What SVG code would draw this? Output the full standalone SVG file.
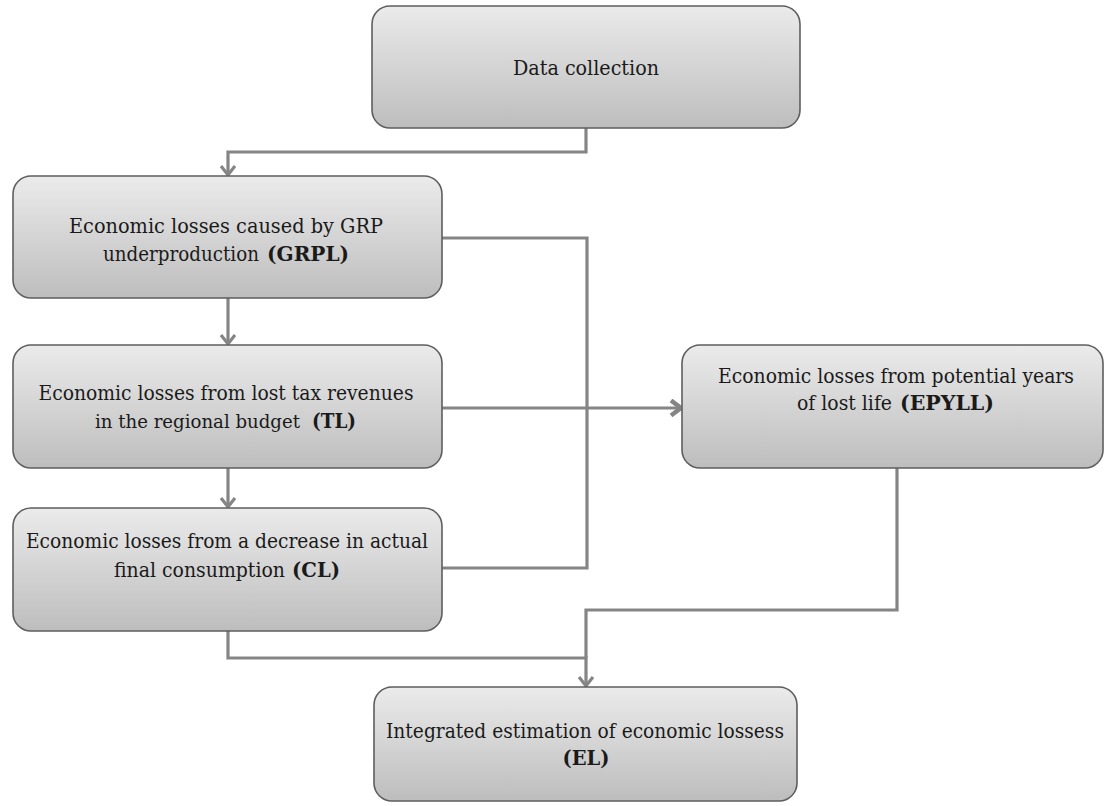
<svg xmlns="http://www.w3.org/2000/svg" width="1105" height="806" viewBox="0 0 1105 806">
<defs>
<linearGradient id="g" x1="0" y1="0" x2="0" y2="1">
<stop offset="0" stop-color="#ebebeb"/>
<stop offset="1" stop-color="#bdbdbd"/>
</linearGradient>
<marker id="ah" markerUnits="userSpaceOnUse" markerWidth="20" markerHeight="20" refX="11" refY="8" orient="auto">
<path d="M2,1 L11,8 L2,15" fill="none" stroke="#858585" stroke-width="3.2"/>
</marker>
<marker id="ahb" markerUnits="userSpaceOnUse" markerWidth="22" markerHeight="22" refX="12" refY="9" orient="auto">
<path d="M2,1.5 L12,9 L2,16.5" fill="none" stroke="#858585" stroke-width="4.5"/>
</marker>
</defs>
<style>
.box{fill:url(#g);stroke:#5e5e5e;stroke-width:1.6}
.t{font-family:'DejaVu Serif','Liberation Serif',serif;font-size:20px;fill:#1a1a1a;text-anchor:middle}
.s{font-family:'DejaVu Serif','Liberation Serif',serif;font-size:20px;fill:#1a1a1a;text-anchor:start}
.b{font-weight:bold}
.c{fill:none;stroke:#858585;stroke-width:3.2}
</style>
<rect width="1105" height="806" fill="#ffffff"/>
<g id="connectors">
<path class="c" d="M586,128 V152 H228 V175" marker-end="url(#ah)"/>
<path class="c" d="M442,238 H587 V568 H442"/>
<path class="c" d="M442,408 H681" marker-end="url(#ahb)"/>
<path class="c" d="M228,298 V344" marker-end="url(#ah)"/>
<path class="c" d="M228,468 V507" marker-end="url(#ah)"/>
<path class="c" d="M228,631 V658 H586 V686" marker-end="url(#ah)"/>
<path class="c" d="M897,468 V610 H586 V658"/>
</g>
<g id="data">
<rect class="box" x="372" y="6" width="428" height="122" rx="18"/>
<text class="t" x="586" y="75" textLength="146" lengthAdjust="spacingAndGlyphs">Data collection</text>
</g>
<g id="grpl">
<rect class="box" x="13" y="176" width="429" height="122" rx="18"/>
<text class="t" x="226" y="233" textLength="314" lengthAdjust="spacingAndGlyphs">Economic losses caused by GRP</text>
<text class="s" x="103" y="261" textLength="156" lengthAdjust="spacingAndGlyphs">underproduction</text>
<text class="s b" x="267" y="261" textLength="82" lengthAdjust="spacingAndGlyphs">(GRPL)</text>
</g>
<g id="tl">
<rect class="box" x="13" y="345" width="429" height="123" rx="18"/>
<text class="t" x="226" y="400" textLength="375" lengthAdjust="spacingAndGlyphs">Economic losses from lost tax revenues</text>
<text class="s" x="95" y="428" font-size="18" style="font-size:18px" textLength="205" lengthAdjust="spacingAndGlyphs">in the regional budget</text>
<text class="s b" x="312" y="428" textLength="44" lengthAdjust="spacingAndGlyphs">(TL)</text>
</g>
<g id="cl">
<rect class="box" x="13" y="508" width="429" height="123" rx="18"/>
<text class="t" x="227" y="548" textLength="402" lengthAdjust="spacingAndGlyphs">Economic losses from a decrease in actual</text>
<text class="s" x="114" y="577" textLength="171" lengthAdjust="spacingAndGlyphs">final consumption</text>
<text class="s b" x="292" y="577" textLength="48" lengthAdjust="spacingAndGlyphs">(CL)</text>
</g>
<g id="epyll">
<rect class="box" x="682" y="345" width="421" height="123" rx="18"/>
<text class="t" x="896" y="383" textLength="356" lengthAdjust="spacingAndGlyphs">Economic losses from potential years</text>
<text class="s" x="797" y="410" textLength="95" lengthAdjust="spacingAndGlyphs">of lost life</text>
<text class="s b" x="900" y="410" textLength="94" lengthAdjust="spacingAndGlyphs">(EPYLL)</text>
</g>
<g id="el">
<rect class="box" x="374" y="687" width="423" height="114" rx="18"/>
<text class="t" x="585" y="738" textLength="398" lengthAdjust="spacingAndGlyphs">Integrated estimation of economic lossess</text>
<text class="t b" x="586" y="765" textLength="47" lengthAdjust="spacingAndGlyphs">(EL)</text>
</g>
</svg>
